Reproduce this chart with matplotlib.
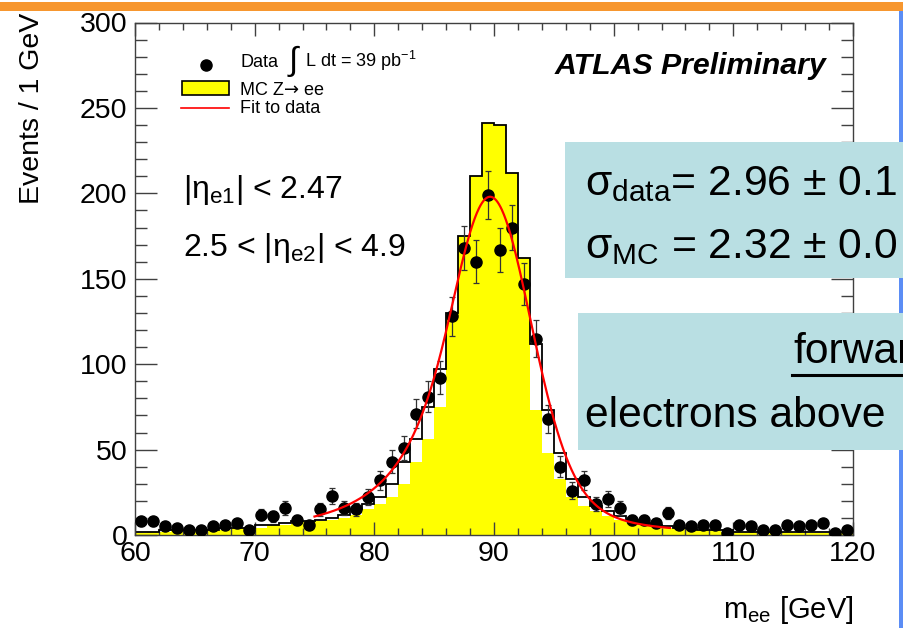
import numpy as np
import matplotlib
matplotlib.use("Agg")
import matplotlib.pyplot as plt
from matplotlib.patches import Rectangle
from matplotlib.lines import Line2D

plt.rcParams["font.family"] = ["Liberation Sans", "DejaVu Sans"]
plt.rcParams["mathtext.fontset"] = "custom"
plt.rcParams["mathtext.rm"] = "Liberation Sans"
plt.rcParams["mathtext.it"] = "Liberation Sans:italic"
plt.rcParams["mathtext.bf"] = "Liberation Sans:bold"

# ---- histogram data: 1 GeV bins from 60 to 120 GeV ----
bin_edges = np.arange(60, 121, 1)

data_counts = [8, 8, 5, 4, 3, 3, 5, 6, 7, 3,
               12, 11, 16, 9, 6, 15, 23, 16, 15, 22,
               32, 43, 51, 71, 81, 92, 128, 168, 160, 199,
               167, 180, 147, 115, 68, 40, 26, 32, 18, 21,
               16, 9, 9, 7, 13, 6, 5, 6, 6, 1,
               6, 5, 3, 3, 6, 5, 6, 7, 1, 3]

mc_outline = [2, 2, 3, 3, 3, 3, 3, 4, 4, 4,
              6, 6, 7, 8, 8, 9, 10, 12, 15, 18,
              22, 30, 43, 56, 75, 97, 130, 175, 210, 241,
              240, 212, 162, 112, 73, 48, 33, 22, 17, 14,
              11, 9, 7, 6, 5, 4, 4, 3, 3, 3,
              2, 2, 2, 2, 2, 2, 2, 2, 2, 2]

mc_fill = [1, 2, 2, 3, 3, 3, 3, 3, 4, 4,
           4, 6, 6, 7, 8, 8, 9, 10, 12, 15,
           18, 22, 30, 43, 56, 75, 130, 175, 210, 241,
           240, 212, 162, 73, 48, 33, 22, 17, 14, 11,
           9, 7, 6, 5, 4, 4, 3, 3, 3, 2,
           2, 2, 2, 2, 2, 1, 1, 1, 1, 1]

# ---- fit: Breit-Wigner convolved with a Crystal Ball resolution ----
z_mass, z_width = 91.19, 2.495
fit_sigma = 2.96
fit_shift = -1.5
cb_alpha, cb_n = 1.2, 4.0
fit_peak = 198.0
fit_range = (75.0, 104.7)


def crystal_ball(t, alpha, n):
    a = (n / alpha) ** n * np.exp(-alpha ** 2 / 2)
    b = n / alpha - alpha
    out = np.exp(-t ** 2 / 2)
    tail = t < -alpha
    out[tail] = a * (b - t[tail]) ** (-n)
    return out


m_fit = np.linspace(fit_range[0], fit_range[1], 500)
m_true = np.arange(40.0, 140.0, 0.02)
bw = 1.0 / ((m_true - z_mass) ** 2 + (z_width / 2) ** 2)
t = (m_fit[:, None] - m_true[None, :] - fit_shift) / fit_sigma
fit_curve = (crystal_ball(t, cb_alpha, cb_n) * bw[None, :]).sum(axis=1)
fit_curve *= fit_peak / fit_curve.max()

# ---- figure ----
W, H = 904, 635
fig = plt.figure(figsize=(W / 100, H / 100), dpi=100)


def fx(x):
    return x / W


def fy(y):
    return 1 - y / H


ax = fig.add_axes([fx(135), fy(535), (853 - 135) / W, (535 - 22.5) / H])

centers = 0.5 * (bin_edges[:-1] + bin_edges[1:])
counts = np.array(data_counts, dtype=float)

ax.stairs(mc_fill, bin_edges, fill=True, color="#FFFF00", zorder=1)
ax.stairs(mc_outline, bin_edges, color="black", lw=1.3, baseline=None, zorder=2)
ax.errorbar(centers, counts, yerr=np.sqrt(counts), fmt="o", color="black",
            ms=8, ecolor="#333333", elinewidth=0.9, capsize=2.2,
            capthick=0.9, zorder=3)
ax.plot(m_fit, fit_curve, color="red", lw=1.6, zorder=4)

ax.set_xlim(60, 120)
ax.set_ylim(0, 300)
ax.set_xticks(np.arange(60, 121, 10))
ax.set_xticks(np.arange(60, 121, 2), minor=True)
ax.set_yticks(np.arange(0, 301, 50))
ax.set_yticks(np.arange(0, 301, 10), minor=True)

frame_col = "#404040"
for s in ax.spines.values():
    s.set_color(frame_col)
    s.set_linewidth(1.0)
ax.tick_params(which="both", direction="in", top=True, right=True,
               color=frame_col, width=1.0, labelsize=20.5)
ax.tick_params(axis="x", which="major", length=9.4, pad=4)
ax.tick_params(axis="x", which="minor", length=4.8)
ax.tick_params(axis="y", which="major", length=15.6, pad=5.5)
ax.tick_params(axis="y", which="minor", length=8.4)

# axis titles
fig.text(fx(32), fy(13), "Events / 1 GeV", rotation=90, ha="center", va="top",
         fontsize=20.5)
fig.text(fx(853), fy(618), r"m$_{\mathrm{ee}}$ [GeV]", ha="right",
         va="baseline", fontsize=21)

# legend
fig.add_artist(Line2D([fx(206)], [fy(65)], marker="o", ms=8, color="black",
                      transform=fig.transFigure))
fig.add_artist(Rectangle((fx(182), fy(95)), (229 - 182) / W, (95 - 81) / H,
                         facecolor="#FFFF00", edgecolor="black", lw=1.2,
                         transform=fig.transFigure))
fig.add_artist(Line2D([fx(181), fx(229)], [fy(108), fy(108)], color="red",
                      lw=1.2, transform=fig.transFigure))
leg_fs = 13
fig.text(fx(240), fy(67), "Data", fontsize=leg_fs, va="baseline")
fig.text(fx(289), fy(70), "\u222b", fontsize=24, va="baseline")
fig.text(fx(305), fy(67), r"L dt = 39 pb$^{-1}$", fontsize=leg_fs, va="baseline")
fig.text(fx(240), fy(113), "Fit to data", fontsize=leg_fs, va="baseline")

# "MC Z→ ee" with the arrow taken from DejaVu Sans, pieces placed in sequence
renderer = fig.canvas.get_renderer()
mc_pieces = [("MC Z", ["Liberation Sans"]), ("\u2192", ["DejaVu Sans"]),
             (" ee", ["Liberation Sans"])]
x_cur = 240.0
for txt, fam in mc_pieces:
    tobj = fig.text(fx(x_cur), fy(95), txt, fontsize=leg_fs, va="baseline",
                    family=fam)
    x_cur += tobj.get_window_extent(renderer).width

fig.text(fx(826), fy(74), "ATLAS Preliminary", fontsize=21.8, fontweight="bold",
         fontstyle="italic", ha="right", va="baseline")

fig.text(fx(183), fy(198), r"|η$_{\mathrm{e1}}$| < 2.47", fontsize=23,
         va="baseline")
fig.text(fx(183), fy(256), r"2.5 < |η$_{\mathrm{e2}}$| < 4.9", fontsize=23,
         va="baseline")

# slide decorations around the plot
fig.add_artist(Rectangle((0, fy(11)), 1, 9.5 / H, facecolor="#F7972F",
                         edgecolor="none", transform=fig.transFigure, zorder=5))
fig.add_artist(Rectangle((fx(899.5), fy(628)), 4.5 / W, (628 - 11) / H,
                         facecolor="#5B8DF5", edgecolor="none",
                         transform=fig.transFigure, zorder=5))

box_col = "#B9DFE3"
fig.add_artist(Rectangle((fx(565), fy(278)), (W - 565) / W, (278 - 141.5) / H,
                         facecolor=box_col, edgecolor="none",
                         transform=fig.transFigure, zorder=6))
fig.add_artist(Rectangle((fx(578), fy(450)), (W - 578) / W, (450 - 313) / H,
                         facecolor=box_col, edgecolor="none",
                         transform=fig.transFigure, zorder=6))

box_fs = 30.7
fig.text(fx(585), fy(195), r"σ$_{\mathrm{data}}$= 2.96 ± 0.1", fontsize=box_fs,
         va="baseline", zorder=7)
fig.text(fx(585), fy(258), r"σ$_{\mathrm{MC}}$ = 2.32 ± 0.0", fontsize=box_fs,
         va="baseline", zorder=7)
fig.text(fx(793), fy(363), "forwar", fontsize=box_fs, va="baseline", zorder=7)
fig.add_artist(Line2D([fx(792), 1.0], [fy(375), fy(375)], color="black",
                      lw=2.2, transform=fig.transFigure, zorder=7))
fig.text(fx(585), fy(427), "electrons above", fontsize=box_fs, va="baseline",
         zorder=7)

fig.savefig("out.png", dpi=100)
